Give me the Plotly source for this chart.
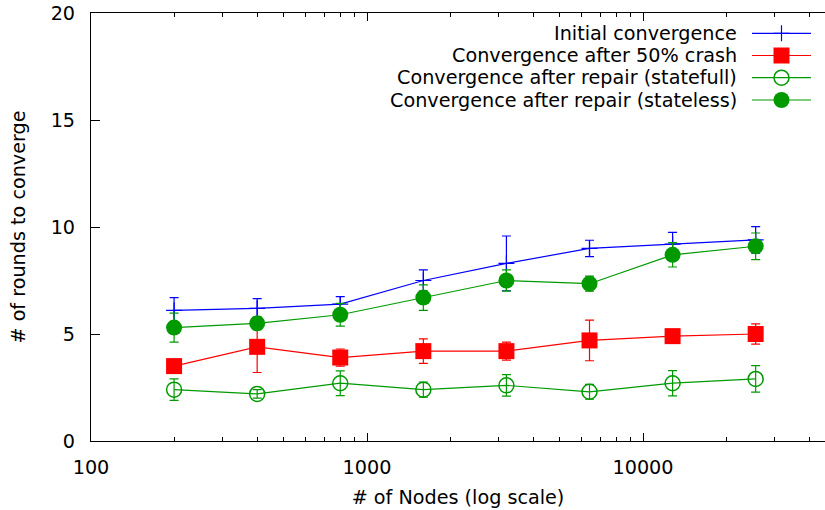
import math
import plotly.graph_objects as go

# ---------------- data ----------------
nodes = [200, 400, 800, 1600, 3200, 6400, 12800, 25600]

initial = [6.1, 6.2, 6.4, 7.5, 8.3, 9.0, 9.2, 9.4]
initial_err = [0.6, 0.45, 0.35, 0.5, 1.28, 0.38, 0.55, 0.62]

crash = [3.5, 4.4, 3.9, 4.2, 4.2, 4.7, 4.9, 5.0]
crash_err = [0.3, 1.2, 0.4, 0.57, 0.42, 0.95, 0.2, 0.47]

statefull = [2.4, 2.2, 2.7, 2.4, 2.6, 2.3, 2.7, 2.9]
statefull_err = [0.5, 0.2, 0.58, 0.35, 0.5, 0.35, 0.59, 0.62]

stateless = [5.3, 5.5, 5.9, 6.7, 7.5, 7.35, 8.7, 9.1]
stateless_err = [0.68, 0.3, 0.53, 0.6, 0.5, 0.35, 0.57, 0.62]

labels = [
    "Initial convergence",
    "Convergence after 50% crash",
    "Convergence after repair (statefull)",
    "Convergence after repair (stateless)",
]

x_major = [100, 1000, 10000]
x_minor = [200, 300, 400, 500, 600, 700, 800, 900,
           2000, 3000, 4000, 5000, 6000, 7000, 8000, 9000,
           20000, 30000, 40000]

# ---------------- styles ----------------
BLUE = "#0000ff"
RED = "#ff0000"
GREEN = "#009a00"
FONT = "DejaVu Sans"
FS = 19.2

W, H = 825, 510
L, R, T, B = 91, 0, 13, 69
px_per_decade = 276.0
x_lo = 2.0
x_hi = x_lo + (W - L - R) / px_per_decade

series = [
    dict(y=initial, e=initial_err, color=BLUE,
         marker=dict(symbol="cross-thin", size=11.4,
                     line=dict(color=BLUE, width=1.2))),
    dict(y=crash, e=crash_err, color=RED,
         marker=dict(symbol="square", size=16, color=RED,
                     line=dict(width=0))),
    dict(y=statefull, e=statefull_err, color=GREEN,
         marker=dict(symbol="circle-open", size=15, color=GREEN,
                     line=dict(color=GREEN, width=1.5))),
    dict(y=stateless, e=stateless_err, color=GREEN,
         marker=dict(symbol="circle", size=16, color=GREEN,
                     line=dict(width=0))),
]

fig = go.Figure()

for s, name in zip(series, labels):
    fig.add_trace(go.Scatter(
        x=nodes, y=s["y"], name=name, mode="lines+markers",
        line=dict(color=s["color"], width=1.2),
        marker=s["marker"],
        error_y=dict(type="data", array=s["e"], visible=True,
                     color=s["color"], thickness=1.2, width=4.5),
        showlegend=False, cliponaxis=False,
    ))

# ------------- manual legend (text left, key right, gnuplot style) -------------
leg_rows = [33.3, 55.5, 77.7, 100.0]   # pixel rows
key_x0, key_xm, key_x1 = 752, 781.5, 811
text_right = 739

for s, name, ry in zip(series, labels, leg_rows):
    fig.add_trace(go.Scatter(
        x=[key_x0, key_x1], y=[ry, ry], mode="lines",
        line=dict(color=s["color"], width=1.2),
        xaxis="x2", yaxis="y2", showlegend=False, hoverinfo="skip",
    ))
    fig.add_trace(go.Scatter(
        x=[key_xm], y=[ry], mode="markers", marker=s["marker"],
        xaxis="x2", yaxis="y2", showlegend=False, hoverinfo="skip",
        cliponaxis=False,
    ))
    fig.add_annotation(
        x=text_right, y=ry, xref="x2", yref="y2", text=name,
        showarrow=False, xanchor="right", yanchor="middle",
        font=dict(family=FONT, size=FS, color="black"),
    )

fig.update_layout(
    width=W, height=H,
    margin=dict(l=L, r=R, t=T, b=B, pad=0),
    paper_bgcolor="white", plot_bgcolor="white",
    font=dict(family=FONT, size=FS, color="black"),
    xaxis=dict(
        type="log", range=[x_lo, x_hi],
        tickmode="array", tickvals=x_major,
        ticktext=[str(v) for v in x_major],
        ticks="inside", ticklen=8, tickwidth=1, tickcolor="black",
        minor=dict(ticks="inside", ticklen=4, tickwidth=1,
                   tickcolor="black", tickmode="array", tickvals=x_minor),
        showline=True, linecolor="black", linewidth=1.2,
        mirror="ticks", showgrid=False, zeroline=False,
        ticklabelstandoff=9,
        title=dict(text="# of Nodes (log scale)", standoff=12,
                   font=dict(family=FONT, size=FS)),
    ),
    yaxis=dict(
        range=[0, 20], tickmode="linear", tick0=0, dtick=5,
        ticks="inside", ticklen=9, tickwidth=1, tickcolor="black",
        showline=True, linecolor="black", linewidth=1.2,
        showgrid=False, zeroline=False,
        ticklabelstandoff=11,
        title=dict(text="# of rounds to converge", standoff=19,
                   font=dict(family=FONT, size=FS)),
    ),
    xaxis2=dict(range=[L, W - R], overlaying="x", anchor="y2",
                visible=False, fixedrange=True),
    yaxis2=dict(range=[H - B, T], overlaying="y", anchor="x2",
                visible=False, fixedrange=True),
)

fig.write_html("out.html")
